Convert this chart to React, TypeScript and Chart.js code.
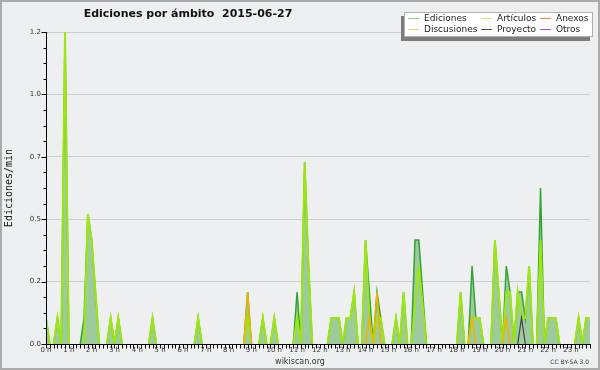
import { useEffect, useRef } from 'react';
import { Chart, registerables } from 'chart.js';

Chart.register(...registerables);

// ---- data (10-minute bins, 144 per day; values in edits/min) ----
const hourLabels = ['0 h', '1 h', '2 h', '3 h', '4 h', '5 h', '6 h', '7 h', '8 h', '9 h', '10 h', '11 h',
  '12 h', '13 h', '14 h', '15 h', '16 h', '17 h', '18 h', '19 h', '20 h', '21 h', '22 h', '23 h'];

const binLabels = Array.from({ length: 144 }, (_, i) => `${Math.floor(i / 6)}:${String((i % 6) * 10).padStart(2, '0')}`);

const seriesNames = ['Ediciones', 'Artículos', 'Anexos', 'Discusiones', 'Proyecto', 'Otros'];

const ediciones = [
  0.1, 0, 0, 0.1, 0, 1.2,
  0, 0, 0, 0, 0.1, 0.5,
  0.4, 0.2, 0, 0, 0, 0.1,
  0, 0.1, 0, 0, 0, 0,
  0, 0, 0, 0, 0.1, 0,
  0, 0, 0, 0, 0, 0,
  0, 0, 0, 0, 0.1, 0,
  0, 0, 0, 0, 0, 0,
  0, 0, 0, 0, 0, 0.2,
  0, 0, 0, 0.1, 0, 0,
  0.1, 0, 0, 0, 0, 0,
  0.2, 0, 0.7, 0.3, 0, 0,
  0, 0, 0, 0.1, 0.1, 0.1,
  0, 0.1, 0.1, 0.2, 0, 0,
  0.4, 0.2, 0, 0.2, 0.1, 0,
  0, 0, 0.1, 0, 0.2, 0,
  0, 0.4, 0.4, 0.2, 0, 0,
  0, 0, 0, 0, 0, 0,
  0, 0.2, 0, 0, 0.3, 0.1,
  0.1, 0, 0, 0, 0.4, 0.2,
  0, 0.3, 0.2, 0, 0.2, 0.2,
  0.1, 0.3, 0, 0, 0.6, 0,
  0.1, 0.1, 0.1, 0, 0, 0,
  0, 0, 0.1, 0, 0.1, 0.1,
];

const articulos = [
  0.1, 0, 0, 0.1, 0, 1.2,
  0, 0, 0, 0, 0, 0.5,
  0.4, 0.2, 0, 0, 0, 0.1,
  0, 0.1, 0, 0, 0, 0,
  0, 0, 0, 0, 0.1, 0,
  0, 0, 0, 0, 0, 0,
  0, 0, 0, 0, 0.1, 0,
  0, 0, 0, 0, 0, 0,
  0, 0, 0, 0, 0, 0.1,
  0, 0, 0, 0.1, 0, 0,
  0.1, 0, 0, 0, 0, 0,
  0.1, 0, 0.7, 0.3, 0, 0,
  0, 0, 0, 0.1, 0.1, 0.1,
  0, 0.1, 0.1, 0.2, 0, 0,
  0.4, 0.1, 0, 0.1, 0.1, 0,
  0, 0, 0.1, 0, 0.2, 0,
  0, 0.15, 0.3, 0.15, 0, 0,
  0, 0, 0, 0, 0, 0,
  0, 0.2, 0, 0, 0.1, 0.1,
  0.1, 0, 0, 0, 0.4, 0.2,
  0, 0.2, 0.2, 0, 0.2, 0.1,
  0.1, 0.3, 0, 0, 0.4, 0,
  0.1, 0.1, 0.1, 0, 0, 0,
  0, 0, 0.1, 0, 0.1, 0.1,
];

const anexos = [
  0, 0, 0, 0, 0, 0, 0, 0, 0, 0, 0, 0,
  0, 0, 0, 0, 0, 0, 0, 0, 0, 0, 0, 0,
  0, 0, 0, 0, 0, 0, 0, 0, 0, 0, 0, 0,
  0, 0, 0, 0, 0, 0, 0, 0, 0, 0, 0, 0,
  0, 0, 0, 0, 0, 0, 0, 0, 0, 0, 0, 0,
  0, 0, 0, 0, 0, 0, 0, 0, 0, 0, 0, 0,
  0, 0, 0, 0, 0, 0, 0, 0, 0, 0, 0, 0,
  0, 0, 0, 0, 0, 0, 0, 0, 0, 0, 0, 0,
  0, 0, 0, 0, 0, 0, 0, 0, 0, 0, 0, 0,
  0, 0, 0, 0, 0, 0, 0, 0, 0, 0, 0, 0,
  0, 0, 0, 0, 0, 0, 0, 0, 0, 0, 0, 0,
  0, 0, 0, 0, 0, 0, 0, 0, 0, 0, 0, 0,
];

const discusiones = [
  0, 0, 0, 0, 0, 0, 0, 0, 0, 0, 0, 0,
  0, 0, 0, 0, 0, 0, 0, 0, 0, 0, 0, 0,
  0, 0, 0, 0, 0, 0, 0, 0, 0, 0, 0, 0,
  0, 0, 0, 0, 0, 0, 0, 0, 0, 0, 0, 0,
  0, 0, 0, 0, 0, 0.2, 0, 0, 0, 0, 0, 0,
  0, 0, 0, 0, 0, 0, 0, 0, 0, 0, 0, 0,
  0, 0, 0, 0, 0, 0, 0, 0, 0, 0, 0, 0,
  0, 0.1, 0, 0.2, 0, 0, 0, 0, 0, 0, 0, 0,
  0, 0, 0, 0, 0, 0, 0, 0, 0, 0, 0, 0,
  0, 0, 0, 0, 0.1, 0, 0, 0, 0, 0, 0, 0,
  0, 0.1, 0, 0, 0, 0, 0, 0, 0, 0, 0, 0,
  0, 0, 0, 0, 0, 0, 0, 0, 0, 0, 0, 0,
];

const proyecto = [
  0, 0, 0, 0, 0, 0, 0, 0, 0, 0, 0, 0,
  0, 0, 0, 0, 0, 0, 0, 0, 0, 0, 0, 0,
  0, 0, 0, 0, 0, 0, 0, 0, 0, 0, 0, 0,
  0, 0, 0, 0, 0, 0, 0, 0, 0, 0, 0, 0,
  0, 0, 0, 0, 0, 0, 0, 0, 0, 0, 0, 0,
  0, 0, 0, 0, 0, 0, 0, 0, 0, 0, 0, 0,
  0, 0, 0, 0, 0, 0, 0, 0, 0, 0, 0, 0,
  0, 0, 0, 0, 0, 0, 0, 0, 0, 0, 0, 0,
  0, 0, 0, 0, 0, 0, 0, 0, 0, 0, 0, 0,
  0, 0, 0, 0, 0, 0, 0, 0, 0, 0, 0, 0,
  0, 0, 0, 0, 0, 0.1, 0, 0, 0, 0, 0, 0,
  0, 0, 0, 0, 0, 0, 0, 0, 0, 0, 0, 0,
];

const otros = [
  0, 0, 0, 0, 0, 0, 0, 0, 0, 0, 0, 0,
  0, 0, 0, 0, 0, 0, 0, 0, 0, 0, 0, 0,
  0, 0, 0, 0, 0, 0, 0, 0, 0, 0, 0, 0,
  0, 0, 0, 0, 0, 0, 0, 0, 0, 0, 0, 0,
  0, 0, 0, 0, 0, 0, 0, 0, 0, 0, 0, 0,
  0, 0, 0, 0, 0, 0, 0, 0, 0, 0, 0, 0,
  0, 0, 0, 0, 0, 0, 0, 0, 0, 0, 0, 0,
  0, 0, 0, 0, 0, 0, 0, 0, 0, 0, 0, 0,
  0, 0, 0, 0, 0, 0, 0, 0, 0, 0, 0, 0,
  0, 0, 0, 0, 0, 0, 0, 0, 0, 0, 0, 0,
  0, 0, 0, 0, 0, 0, 0, 0, 0, 0, 0, 0,
  0, 0, 0, 0, 0, 0, 0, 0, 0, 0, 0, 0,
];

const yMax = 1.2;
const yTickLabels = ['0.0', '0.2', '0.5', '0.7', '1.0', '1.2'];
const yTickValues = Array.from({ length: 21 }, (_, i) => +((i * yMax) / 20).toFixed(3));

const titleText = 'Ediciones por ámbito  2015-06-27';

// ---- styles ----
const lineColors = ['#33a333', '#9de612', '#ee7744', '#f0b400', '#444444', '#9944ee'];
const legendColors = ['#88cc88', '#cdeb5a', '#f08050', '#f5d060', '#555555', '#9955ee'];
const BG = '#eeeff1';
const FONT = '"DejaVu Sans", sans-serif';

const hideFlat = {
  borderColor: (c: any) => (c.p0.parsed.y === 0 && c.p1.parsed.y === 0 ? 'rgba(0,0,0,0)' : undefined),
};

const decorPlugin = {
  id: 'decor',
  beforeDraw(chart: any) {
    const { ctx, width, height } = chart;
    ctx.save();
    ctx.fillStyle = BG;
    ctx.fillRect(0, 0, width, height);
    ctx.strokeStyle = '#ababab';
    ctx.lineWidth = 2;
    ctx.strokeRect(1, 1, width - 2, height - 2);
    ctx.restore();
  },
  afterDatasetsDraw(chart: any) {
    const { ctx, chartArea, scales } = chart;
    const xs = scales.x;
    const ys = scales.y;
    const ax = Math.round(chartArea.left) + 0.5;
    const ay = Math.round(chartArea.bottom) + 0.5;
    ctx.save();
    ctx.strokeStyle = '#000';
    ctx.lineWidth = 1;
    ctx.beginPath();
    ctx.moveTo(ax, Math.round(chartArea.top));
    ctx.lineTo(ax, ay);
    ctx.lineTo(Math.round(chartArea.right) + 1, ay);
    ys.ticks.forEach((t: any, i: number) => {
      const py = Math.round(ys.getPixelForValue(t.value)) + 0.5;
      const len = i % 4 === 0 ? 5 : 3;
      ctx.moveTo(ax - len, py);
      ctx.lineTo(ax, py);
    });
    for (let i = 0; i < binLabels.length; i++) {
      const px = Math.round(xs.getPixelForValue(i)) + 0.5;
      ctx.moveTo(px, ay);
      ctx.lineTo(px, ay + 4);
    }
    ctx.stroke();
    ctx.restore();
  },
  afterDraw(chart: any) {
    const { ctx } = chart;
    ctx.save();
    // title
    ctx.fillStyle = '#111';
    ctx.font = `bold 11px ${FONT}`;
    ctx.textAlign = 'center';
    ctx.textBaseline = 'middle';
    ctx.fillText(titleText, 188, 14);

    // legend
    const bx = 404, by = 12, bw = 189, bh = 25;
    ctx.fillStyle = '#7d7d7d';
    ctx.fillRect(bx - 3, by + 4, bw, bh);
    ctx.fillStyle = '#ffffff';
    ctx.fillRect(bx, by, bw, bh);
    ctx.strokeStyle = '#b0b0b0';
    ctx.lineWidth = 1;
    ctx.strokeRect(bx + 0.5, by + 0.5, bw - 1, bh - 1);
    const cols = [408, 481, 540];
    const rows = [18.5, 29.5];
    ctx.font = `9px ${FONT}`;
    ctx.textAlign = 'left';
    seriesNames.forEach((name, i) => {
      const cx = cols[i % 3];
      const cy = rows[Math.floor(i / 3)];
      ctx.strokeStyle = legendColors[i];
      ctx.beginPath();
      ctx.moveTo(cx, cy);
      ctx.lineTo(cx + 11, cy);
      ctx.stroke();
      ctx.fillStyle = '#222';
      ctx.fillText(name, cx + 16, cy);
    });

    // footer
    ctx.fillStyle = '#333';
    ctx.font = `8px ${FONT}`;
    ctx.textAlign = 'center';
    ctx.fillText('wikiscan.org', 300, 362);
    ctx.font = `6px ${FONT}`;
    ctx.textAlign = 'right';
    ctx.fillText('CC BY-SA 3.0', 589, 362);
    ctx.restore();
  },
};

export default function App() {
  const ref = useRef<HTMLCanvasElement | null>(null);

  useEffect(() => {
    if (!ref.current) return;
    Chart.defaults.font.family = FONT;
    const clip = { left: 0, top: 8, right: 2, bottom: 0 };
    const chart = new Chart(ref.current, {
      type: 'line',
      data: {
        labels: binLabels,
        datasets: [
          { label: seriesNames[0], data: ediciones, borderColor: lineColors[0], backgroundColor: '#9ecb9e', borderWidth: 1.5, fill: 'origin', order: 5, segment: hideFlat, clip } as any,
          { label: seriesNames[1], data: articulos, borderColor: lineColors[1], borderWidth: 2, fill: false, order: 4, segment: hideFlat, clip },
          { label: seriesNames[2], data: anexos, borderColor: lineColors[2], borderWidth: 1.5, fill: false, order: 3, segment: hideFlat, clip },
          { label: seriesNames[3], data: discusiones, borderColor: lineColors[3], borderWidth: 1.5, fill: false, order: 1, segment: hideFlat, clip },
          { label: seriesNames[4], data: proyecto, borderColor: lineColors[4], borderWidth: 1.2, fill: false, order: 0, segment: hideFlat, clip },
          { label: seriesNames[5], data: otros, borderColor: lineColors[5], borderWidth: 1.5, fill: false, order: 2, segment: hideFlat, clip },
        ],
      },
      options: {
        responsive: false,
        animation: false,
        devicePixelRatio: 1,
        layout: { padding: { left: 0, top: 32, right: 10, bottom: 0 } },
        elements: { point: { radius: 0 }, line: { tension: 0 } },
        plugins: { legend: { display: false }, title: { display: false }, tooltip: { enabled: false } },
        scales: {
          x: {
            type: 'category',
            offset: false,
            grid: { display: false, drawTicks: false },
            border: { display: false },
            afterFit: (s: any) => { s.height = 26; },
            ticks: {
              autoSkip: false, maxRotation: 0, minRotation: 0, padding: 2, color: '#333',
              font: { size: 7, family: FONT },
              callback: (_v: any, i: number) => (i % 6 === 0 ? hourLabels[i / 6] : ''),
            },
          },
          y: {
            min: 0,
            max: yMax,
            afterBuildTicks: (s: any) => { s.ticks = yTickValues.map((v) => ({ value: v })); },
            afterFit: (s: any) => { s.width = 46; },
            grid: {
              color: (c: any) => (c.index % 4 === 0 ? '#cccccc' : 'rgba(0,0,0,0)'),
              drawTicks: false,
              lineWidth: 1,
            },
            border: { display: false },
            ticks: {
              autoSkip: false, padding: 5, color: '#333',
              font: { size: 7, family: FONT },
              callback: (_v: any, i: number) => (i % 4 === 0 ? yTickLabels[i / 4] : ''),
            },
            title: {
              display: true, text: 'Ediciones/min', color: '#111',
              font: { family: '"DejaVu Sans Mono", monospace', size: 10 },
              padding: { top: 3, bottom: 0 },
            },
          },
        },
      } as any,
      plugins: [decorPlugin],
    });
    return () => chart.destroy();
  }, []);

  return (
    <div style={{ position: 'absolute', left: 0, top: 0, width: 600, height: 370 }}>
      <canvas ref={ref} width={600} height={370} style={{ display: 'block' }} />
    </div>
  );
}
